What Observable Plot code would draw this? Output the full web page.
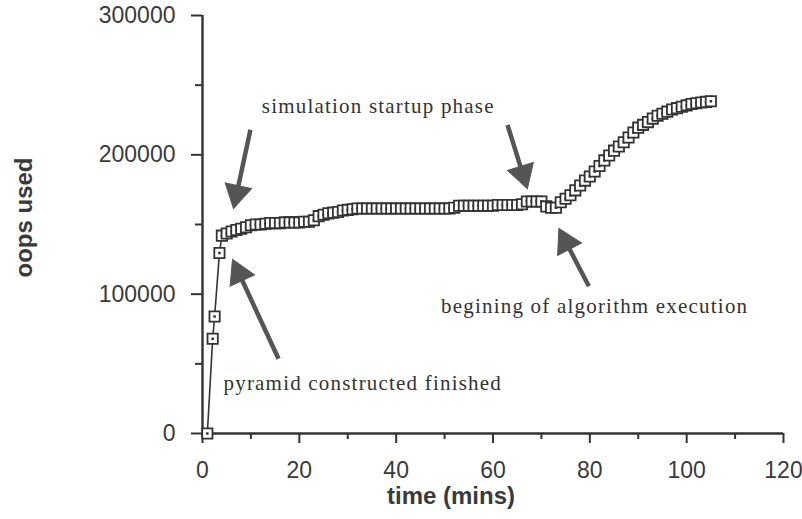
<!DOCTYPE html>
<html><head><meta charset="utf-8">
<script src="https://cdn.jsdelivr.net/npm/d3@7"></script>
<script src="https://cdn.jsdelivr.net/npm/@observablehq/plot@0.6"></script>
<style>body{margin:0;background:#fff}</style>
</head><body><div id="chart"></div>
<script>
// ---- data ----
const time = [1, 2.1, 2.5, 3.5, 4, 5, 6, 7, 8, 9, 10, 11, 12, 13, 14, 15, 16, 17, 18, 19, 20,
  21, 22, 23, 24, 25, 26, 27, 28, 29, 30, 31, 32, 33, 34, 35, 36, 37, 38, 39, 40,
  41, 42, 43, 44, 45, 46, 47, 48, 49, 50, 51, 52, 53, 54, 55, 56, 57, 58, 59, 60,
  61, 62, 63, 64, 65, 66, 67, 68, 69, 70, 71, 72, 73, 74, 75, 76, 77, 78, 79, 80,
  81, 82, 83, 84, 85, 86, 87, 88, 89, 90, 91, 92, 93, 94, 95, 96, 97, 98, 99, 100,
  101, 102, 103, 104, 105];
const oops = [0, 68000, 84000, 129500, 142000, 143500, 145000, 146000, 147000, 148000, 149500, 150000, 150000, 150500, 151000, 151000, 151000, 151500, 151500, 151500, 151500,
  152000, 152000, 153000, 156000, 157000, 158000, 158500, 159000, 160000, 160500, 161000, 161500, 161500, 161500, 161500, 161500, 161500, 161500, 161500, 161500,
  161500, 161500, 161500, 161500, 161500, 161500, 161500, 161500, 161500, 161500, 161500, 162000, 163500, 163500, 163500, 163500, 163500, 163500, 163500, 163500,
  164000, 164000, 164000, 164000, 164000, 164500, 166500, 166500, 166500, 166500, 163000, 162000, 162000, 166000, 168500, 171000, 174500, 178000, 181500, 184500,
  188000, 192000, 196000, 199500, 203000, 206000, 209000, 212500, 216000, 219500, 221500, 223500, 226000, 228000, 229500, 231000, 232500, 233500, 234500, 235500,
  236500, 237000, 237500, 238000, 238500];

const xTicks = [0, 20, 40, 60, 80, 100, 120];
const xMinorTicks = [10, 30, 50, 70, 90, 110];
const yTicks = [0, 100000, 200000, 300000];
const yMinorTicks = [50000, 150000, 250000];
const xLabel = "time (mins)";
const yLabel = "oops used";

const noteText = ["simulation startup phase", "begining of algorithm execution", "pyramid constructed finished"];
const noteTime = [36.3, 81.0, 33.1];
const noteOops = [235000, 91400, 35700];

const arrowTailTime = [9.9, 63.0, 15.7, 79.8];
const arrowTailOops = [218000, 221400, 53600, 105700];
const arrowTipTime = [6.4, 67.1, 6.2, 73.6];
const arrowTipOops = [161400, 175700, 125000, 147100];

// ---- build ----
const W = 802, H = 519;
const layout = {width: W, height: H, marginLeft: 202, marginRight: 19, marginTop: 15, marginBottom: 86};
const xOpt = {domain: [0, 120]};
const yOpt = {domain: [0, 300000]};

const pts = time.map((t, i) => ({t, v: oops[i]}));
const notes = noteText.map((s, i) => ({s, t: noteTime[i], v: noteOops[i]}));

// marker: square outline with a small dark dot in the middle
const boxDot = {
  draw(ctx, size) {
    const h = Math.sqrt(size) / 2;
    ctx.moveTo(-h, -h); ctx.lineTo(h, -h); ctx.lineTo(h, h); ctx.lineTo(-h, h); ctx.closePath();
    const d = 0.35;
    ctx.moveTo(-d, -d); ctx.lineTo(d, -d); ctx.lineTo(d, d); ctx.lineTo(-d, d); ctx.closePath();
  }
};

// temp plot to obtain scales
const tmp = Plot.plot({...layout, x: xOpt, y: yOpt, marks: [Plot.dot(pts, {x: "t", y: "v"})]});
const sx = tmp.scale("x"), sy = tmp.scale("y");
const lin = (s) => {
  const [d0, d1] = s.domain, [r0, r1] = s.range;
  return {apply: v => r0 + (v - d0) * (r1 - r0) / (d1 - d0), invert: p => d0 + (p - r0) * (d1 - d0) / (r1 - r0)};
};
const X = lin(sx), Y = lin(sy);

const headR = 10;
const apex = 2 * Math.sqrt((Math.PI * headR * headR) / (3 * Math.sqrt(3)));
const arrows = arrowTailTime.map((_, i) => {
  const x0 = X.apply(arrowTailTime[i]), y0 = Y.apply(arrowTailOops[i]);
  const x1 = X.apply(arrowTipTime[i]), y1 = Y.apply(arrowTipOops[i]);
  const dx = x1 - x0, dy = y1 - y0, L = Math.hypot(dx, dy);
  const cx = x1 - dx / L * apex, cy = y1 - dy / L * apex;
  return {
    t0: arrowTailTime[i], v0: arrowTailOops[i],
    tc: X.invert(cx), vc: Y.invert(cy),
    angle: Math.atan2(dx, -dy) * 180 / Math.PI
  };
});

const font = "Liberation Sans, Arial, Helvetica, sans-serif";
const ink = "#333";

const chart = Plot.plot({
  ...layout,
  style: {background: "#fff", fontFamily: font},
  x: xOpt, y: yOpt,
  marks: [
    // axis lines
    Plot.ruleY([0], {stroke: ink, strokeWidth: 2.4}),
    Plot.ruleX([0], {stroke: ink, strokeWidth: 2.4}),
    Plot.axisX(xTicks, {tickSize: 10, tickPadding: 18, fontSize: 23, stroke: ink, strokeWidth: 2, color: "#3a3a3a", label: null}),
    Plot.axisX(xMinorTicks, {tickSize: 6, text: null, stroke: ink, strokeWidth: 2, label: null}),
    Plot.axisY(yTicks, {tickSize: 11, tickPadding: 16, fontSize: 23, stroke: ink, strokeWidth: 2, color: "#3a3a3a", label: null, tickFormat: d => String(d)}),
    Plot.axisY(yMinorTicks, {tickSize: 7, text: null, stroke: ink, strokeWidth: 2, label: null}),
    Plot.text([yLabel], {frameAnchor: "left", textAnchor: "middle", lineAnchor: "middle", dx: -178, dy: -7, rotate: -90, fontSize: 24, fontWeight: "bold", fill: "#3a3a3a"}),
    Plot.text([xLabel], {frameAnchor: "bottom", textAnchor: "middle", lineAnchor: "middle", dx: -42, dy: 63, fontSize: 24, fontWeight: "bold", fill: "#3a3a3a"}),
    // data
    Plot.line(pts, {x: "t", y: "v", stroke: ink, strokeWidth: 1.6}),
    Plot.dot(pts, {x: "t", y: "v", symbol: boxDot, r: 5.8, fill: "white", stroke: ink, strokeWidth: 1.8}),
    // annotations
    Plot.link(arrows, {x1: "t0", y1: "v0", x2: "tc", y2: "vc", stroke: "#555", strokeWidth: 4.5}),
    Plot.dot(arrows, {x: "tc", y: "vc", symbol: "triangle", r: headR, rotate: "angle", fill: "#555", stroke: "#555", strokeWidth: 1}),
    Plot.text(notes, {x: "t", y: "v", text: "s", fontFamily: "Liberation Serif, Times New Roman, serif", fontSize: 21, fill: "#333"})
  ]
});
// widen the annotation lettering (typewriter-like spacing of the original)
d3.select(chart).selectAll("text")
  .filter(function () { return noteText.includes(this.textContent); })
  .style("letter-spacing", "1.2px");
document.getElementById("chart").appendChild(chart);
</script>
</body></html>
